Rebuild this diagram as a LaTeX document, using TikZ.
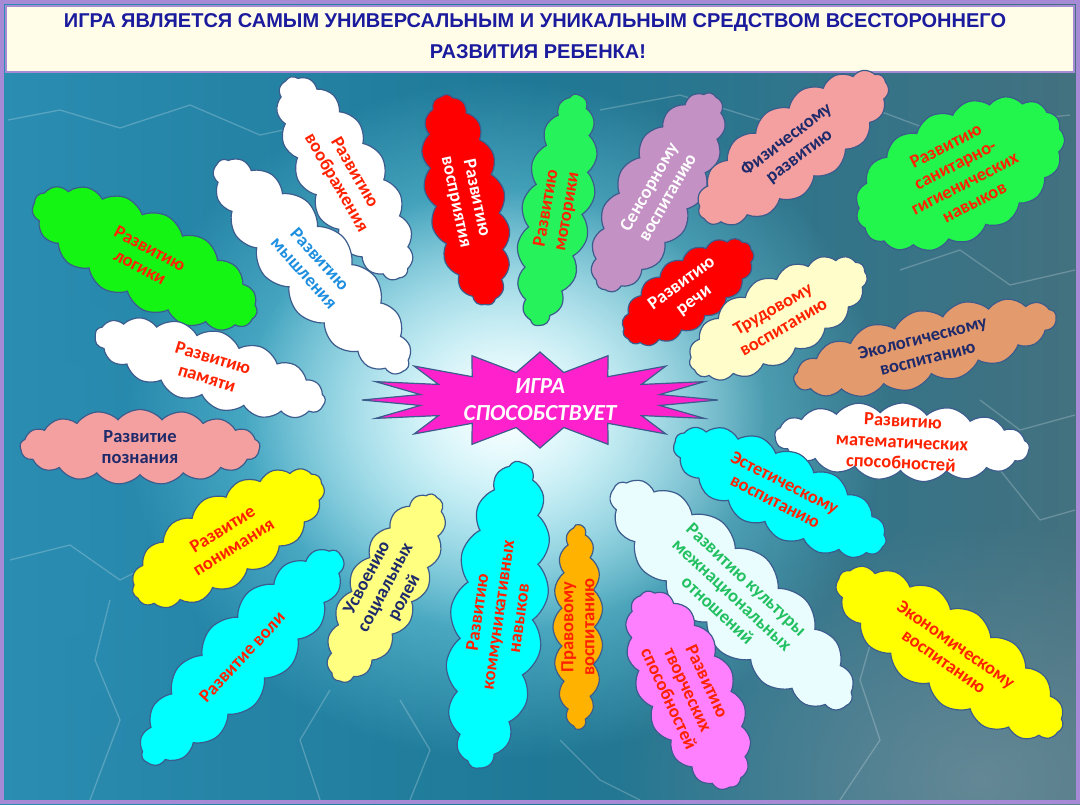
\documentclass[tikz,border=0pt]{standalone}
\usepackage{fontspec}
\setmainfont{Carlito}
\newfontfamily\titlefont{Liberation Sans}
\usetikzlibrary{shapes.symbols,fadings}
\definecolor{bgL}{HTML}{2A8DB2}
\definecolor{bgM}{HTML}{1F7896}
\definecolor{bgR}{HTML}{43717F}
\definecolor{bggrey}{HTML}{7E96A2}
\definecolor{glowcyan}{HTML}{8EF2FF}
\definecolor{framecol}{HTML}{A68AD6}
\definecolor{titlebg}{HTML}{FFFCE8}
\definecolor{titleblue}{HTML}{1B1B9E}
\definecolor{cloudedge}{HTML}{3B5C8C}
\definecolor{cGreen}{HTML}{14F514}
\definecolor{cGreenB}{HTML}{26F25C}
\definecolor{cGreenC}{HTML}{22F54C}
\definecolor{cRed}{HTML}{FF0000}
\definecolor{cLilac}{HTML}{C391C4}
\definecolor{cPink}{HTML}{F4A0A0}
\definecolor{cCream}{HTML}{FFFECB}
\definecolor{cTan}{HTML}{E39A6C}
\definecolor{cCyan}{HTML}{00FFFF}
\definecolor{cIce}{HTML}{E9FDFE}
\definecolor{cYellow}{HTML}{FFFF00}
\definecolor{cMagenta}{HTML}{FF80FF}
\definecolor{cOrange}{HTML}{FFB300}
\definecolor{cLemon}{HTML}{FFFF80}
\definecolor{starfill}{HTML}{FF22CC}
\definecolor{tRed}{HTML}{FF2200}
\definecolor{tNavy}{HTML}{1F2A6B}
\definecolor{tBlue}{HTML}{1E8FE0}
\definecolor{tGreen}{HTML}{22C060}
\tikzfading[name=glowfade, inner color=transparent!0, outer color=transparent!100]
\newcommand\mycloud[9]{%
  \node[cl, fill=#7, minimum width=#5pt, minimum height=#6pt, rotate=#4] (#1) at (#2,#3) {};
  \node[lbl, text=#8, rotate=#4] (#1-t) at (#1) {#9};}
\begin{document}
\begin{tikzpicture}[x=1pt,y=-1pt,
  cl/.style={cloud, cloud puffs=17, cloud puff arc=100, cloud ignores aspect, draw=cloudedge, line width=1.2pt, inner sep=0pt},
  lbl/.style={font=\bfseries\fontsize{18.5}{21}\selectfont, align=center, inner sep=0pt},
  titlesty/.style={font=\titlefont\bfseries\fontsize{20}{22}\selectfont, text=titleblue, inner sep=0pt},
  light/.style={draw=white, opacity=0.22, line width=1.3pt, line join=round},
  starsty/.style={fill=starfill, draw=cloudedge, line width=1.2pt, line join=miter}]
\useasboundingbox (0,0) rectangle (1080,804);
% background
\fill[left color=bgL, right color=bgR, middle color=bgM] (0,0) rectangle (1080,804);
\fill[bggrey, opacity=0.6, path fading=glowfade] (980,780) ellipse (360 and 260);
\fill[bgL, opacity=0.5, path fading=glowfade] (60,500) ellipse (260 and 400);
\fill[glowcyan, path fading=glowfade] (505,420) ellipse (380 and 340);
\fill[white, path fading=glowfade] (505,410) ellipse (260 and 220);
% lightning
\draw[light] (8,120) -- (60,110) -- (120,128) -- (190,105) -- (260,135) -- (330,120);
\draw[light] (600,110) -- (680,95) -- (760,120) -- (850,100) -- (930,130) -- (1070,115);
\draw[light] (900,270) -- (960,250) -- (1010,285) -- (1075,270);
\draw[light] (980,400) -- (1020,430) -- (1075,415);
\draw[light] (10,560) -- (70,545) -- (120,580) -- (160,560);
\draw[light] (110,600) -- (95,660) -- (120,720) -- (90,800);
\draw[light] (330,690) -- (300,740) -- (320,800);
\draw[light] (400,700) -- (430,750) -- (410,800);
\draw[light] (880,610) -- (860,680) -- (880,740) -- (840,800);
\draw[light] (1000,470) -- (1040,520) -- (1075,510);
\draw[light] (560,740) -- (600,780) -- (640,800);
% frame and title band
\fill[titlebg] (6,6) rectangle (1074,72);
\draw[framecol, line width=2pt] (6,6) rectangle (1074,72);
\draw[framecol, line width=4pt] (2,2) rectangle (1078,802);
\node[titlesty] (title1) at (535,23) {ИГРА ЯВЛЯЕТСЯ САМЫМ УНИВЕРСАЛЬНЫМ И УНИКАЛЬНЫМ СРЕДСТВОМ ВСЕСТОРОННЕГО};
\node[titlesty] (title2) at (538,52) {РАЗВИТИЯ РЕБЕНКА!};
% clouds
\mycloud{logic}{145}{258}{-28}{250}{95}{cGreen}{tRed}{Развитию\\логики}
\mycloud{imag}{345}{178}{-60}{230}{85}{white}{tRed}{Развитию\\воображения}
\mycloud{think}{312}{266}{-48}{280}{85}{white}{tBlue}{Развитию\\мышления}
\mycloud{perc}{466}{200}{-78}{215}{78}{cRed}{white}{Развитию\\восприятия}
\mycloud{motor}{557}{210}{80}{235}{70}{cGreenB}{tRed}{Развитию\\моторики}
\mycloud{sens}{658}{192}{60}{225}{85}{cLilac}{white}{Сенсорному\\воспитанию}
\mycloud{phys}{793}{148}{37}{230}{88}{cPink}{tNavy}{Физическому\\развитию}
\mycloud{sanit}{960}{174}{27}{225}{130}{cGreenC}{tRed}{Развитию\\санитарно-\\гигиенических\\навыков}
\mycloud{speech}{688}{292}{36}{155}{70}{cRed}{white}{Развитию\\речи}
\mycloud{labor}{778}{318}{30}{200}{85}{cCream}{tRed}{Трудовому\\воспитанию}
\mycloud{eco}{925}{348}{14}{270}{75}{cTan}{tNavy}{Экологическому\\воспитанию}
\mycloud{math}{902}{442}{-3}{255}{78}{white}{tRed}{Развитию\\математических\\способностей}
\mycloud{aest}{780}{492}{-27}{235}{85}{cCyan}{tRed}{Эстетическому\\воспитанию}
\mycloud{cult}{732}{595}{-43}{320}{100}{cIce}{tGreen}{Развитию культуры\\межнациональных\\отношений}
\mycloud{econ}{950}{653}{-35}{270}{95}{cYellow}{tRed}{Экономическому\\воспитанию}
\mycloud{creat}{688}{690}{-65}{215}{95}{cMagenta}{tRed}{Развитию\\творческих\\способностей}
\mycloud{legal}{578}{627}{90}{205}{50}{cOrange}{tRed}{Правовому\\воспитанию}
\mycloud{comm}{498}{615}{82}{310}{95}{cCyan}{tRed}{Развитию\\коммуникативных\\навыков}
\mycloud{social}{386}{588}{62}{210}{75}{cLemon}{tNavy}{Усвоению\\социальных\\ролей}
\mycloud{will}{242}{657}{47}{285}{85}{cCyan}{tRed}{Развитие воли}
\mycloud{under}{228}{538}{32}{220}{90}{cYellow}{tRed}{Развитие\\понимания}
\mycloud{cogn}{140}{447}{0}{240}{75}{cPink}{tNavy}{Развитие\\познания}
\mycloud{memory}{210}{368}{-17}{240}{75}{white}{tRed}{Развитию\\памяти}
% central star
\path[starsty] (718,400) \foreach \i in {1,...,31}{ -- ({540+ifthenelse(mod(\i,2)==0,178,122)*cos(\i*11.25)}, {400+ifthenelse(mod(\i,2)==0,48,28)*sin(\i*11.25)}) } -- cycle;
\node[font=\bfseries\itshape\fontsize{23}{27}\selectfont, text=white, align=center] (star) at (540,400) {ИГРА\\СПОСОБСТВУЕТ};
\end{tikzpicture}
\end{document}
